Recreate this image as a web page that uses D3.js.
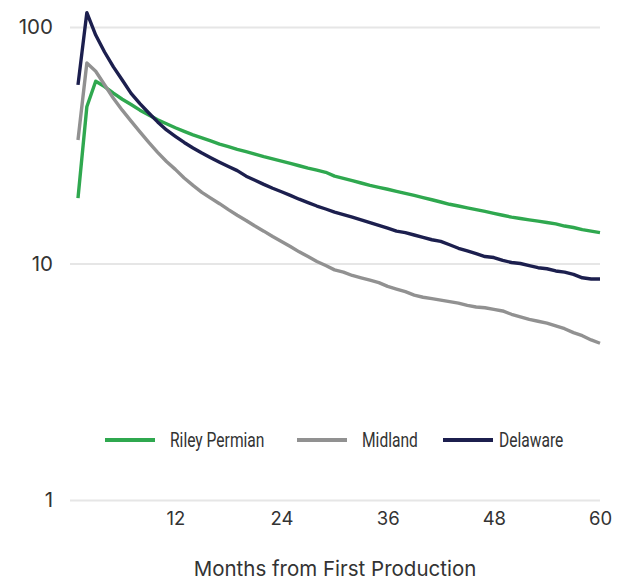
<!DOCTYPE html>
<html>
<head>
<meta charset="utf-8">
<script src="https://cdn.jsdelivr.net/npm/d3@7"></script>
<style>
  body { margin: 0; background: #fff; }
  .tick text { fill: #333; }
</style>
</head>
<body>
<div id="chart"></div>
<script>
// Data: monthly production by basin (months 1..60)
var months = d3.range(1, 61);

var rileyPermian = [18.9, 46, 59, 56, 52.5, 49.5, 47, 44.5, 42.5, 40.5,
  39, 37.5, 36.2, 35, 34, 33, 32, 31.2, 30.4, 29.7,
  29, 28.3, 27.7, 27.1, 26.5, 25.9, 25.3, 24.8, 24.3, 23.4,
  22.9, 22.4, 21.9, 21.4, 21.0, 20.6, 20.2, 19.8, 19.4, 19.0,
  18.6, 18.2, 17.8, 17.5, 17.2, 16.9, 16.6, 16.3, 16.0, 15.7,
  15.5, 15.3, 15.1, 14.9, 14.7, 14.4, 14.2, 13.9, 13.7, 13.5];

var midland = [33.3, 70.4, 65, 57, 50, 44.5, 40, 36, 32.5, 29.5,
  27, 25, 23, 21.4, 20, 18.9, 17.9, 16.9, 16.0, 15.2,
  14.4, 13.7, 13.0, 12.4, 11.8, 11.2, 10.7, 10.2, 9.8, 9.4,
  9.2, 8.9, 8.7, 8.5, 8.3, 8.0, 7.8, 7.6, 7.35, 7.2,
  7.1, 7.0, 6.9, 6.8, 6.65, 6.55, 6.5, 6.4, 6.3, 6.1,
  5.95, 5.8, 5.7, 5.6, 5.45, 5.3, 5.1, 4.95, 4.75, 4.6];

var delaware = [56.9, 115, 92.5, 78.4, 67.8, 59.7, 52.4, 47.4, 43.3, 39.7,
  36.7, 34.5, 32.5, 30.8, 29.3, 28.0, 26.8, 25.7, 24.7, 23.4,
  22.5, 21.6, 20.8, 20.1, 19.4, 18.7, 18.1, 17.5, 17.0, 16.5,
  16.1, 15.7, 15.3, 14.9, 14.5, 14.1, 13.7, 13.5, 13.2, 12.9,
  12.6, 12.4, 12.0, 11.6, 11.3, 11.0, 10.7, 10.6, 10.3, 10.1,
  10.0, 9.8, 9.6, 9.5, 9.3, 9.2, 9.0, 8.7, 8.6, 8.6];

var seriesNames = ["Riley Permian", "Midland", "Delaware"];
var seriesColors = ["#2fa84f", "#919191", "#1c1f4e"];
var xTicks = [12, 24, 36, 48, 60];
var yTicks = [1, 10, 100];

var series = [rileyPermian, midland, delaware];

var width = 625;
var height = 582;

var svg = d3.select("#chart")
  .append("svg")
  .attr("width", width)
  .attr("height", height);

// Scales
var xScale = d3.scaleLinear()
  .domain([1, 60])
  .range([78, 600]);

var yScale = d3.scaleLog()
  .domain([1, 100])
  .range([500, 27]);

// Gridlines + y labels
var yAxis = d3.axisLeft(yScale)
  .tickValues(yTicks)
  .tickFormat(d3.format("d"))
  .tickSize(-530)
  .tickPadding(17);

var gy = svg.append("g")
  .attr("transform", "translate(70,0)")
  .call(yAxis);
gy.select(".domain").remove();
gy.selectAll(".tick line")
  .attr("stroke", "#e6e6e6")
  .attr("stroke-width", 2);
gy.selectAll(".tick text")
  .style("font-family", "Inter, 'Open Sans', sans-serif")
  .style("font-size", "20.5px");

// x axis (labels only)
var xAxis = d3.axisBottom(xScale)
  .tickValues(xTicks)
  .tickSize(0)
  .tickPadding(0);

var gx = svg.append("g")
  .attr("transform", "translate(0,512)")
  .call(xAxis);
gx.select(".domain").remove();
gx.selectAll(".tick text")
  .style("font-family", "Inter, 'Open Sans', sans-serif")
  .style("font-size", "18.5px");

// Axis title
svg.append("text")
  .attr("x", 335)
  .attr("y", 576)
  .attr("text-anchor", "middle")
  .style("font-family", "Inter, 'Open Sans', sans-serif")
  .style("font-size", "20.5px")
  .style("fill", "#333")
  .text("Months from First Production");

// Lines
var line = d3.line()
  .x(function(d, i) { return xScale(months[i]); })
  .y(function(d) { return yScale(d); });

svg.selectAll(".series")
  .data(series)
  .enter().append("path")
  .attr("class", "series")
  .attr("fill", "none")
  .attr("stroke", function(d, i) { return seriesColors[i]; })
  .attr("stroke-width", 3.4)
  .attr("stroke-linejoin", "round")
  .attr("d", line);

// Legend
var legendX = [105, 297, 443];
var legend = svg.append("g").attr("class", "legend");

var items = legend.selectAll("g")
  .data(seriesNames)
  .enter().append("g")
  .attr("transform", function(d, i) { return "translate(" + legendX[i] + ",440)"; });

items.append("line")
  .attr("x1", 0).attr("x2", 50)
  .attr("y1", 0).attr("y2", 0)
  .attr("stroke", function(d, i) { return seriesColors[i]; })
  .attr("stroke-width", 4);

// condensed look: scale a regular face horizontally
items.append("text")
  .attr("transform", function(d, i) { return "translate(" + (i == 2 ? 56 : 65) + ",7) scale(0.78,1)"; })
  .style("font-family", "Roboto, sans-serif")
  .style("font-weight", 400)
  .style("font-size", "20px")
  .style("fill", "#333")
  .text(function(d) { return d; });
</script>
</body>
</html>
